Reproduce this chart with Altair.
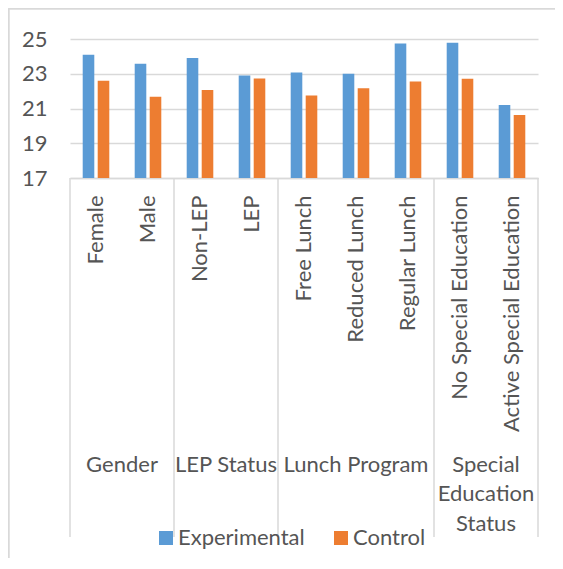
import altair as alt
import pandas as pd

categories = ["Female", "Male", "Non-LEP", "LEP", "Free Lunch", "Reduced Lunch",
              "Regular Lunch", "No Special Education", "Active Special Education"]
experimental = [24.1, 23.57, 23.9, 22.9, 23.07, 23.0, 24.74, 24.78, 21.2]
control = [22.6, 21.67, 22.07, 22.72, 21.75, 22.17, 22.55, 22.71, 20.62]
series = ["Experimental", "Control"]
colors = ["#5B9BD5", "#ED7D31"]
groups = ["Gender", "LEP Status", "Lunch Program", "Special\nEducation\nStatus"]
group_sizes = [2, 2, 3, 2]
y_ticks = [17, 19, 21, 23, 25]

rows = []
for c, e, k in zip(categories, experimental, control):
    rows.append({"category": c, "series": "Experimental", "value": e})
    rows.append({"category": c, "series": "Control", "value": k})
df = pd.DataFrame(rows)

bounds = [0]
for s in group_sizes:
    bounds.append(bounds[-1] + s)
sep_df = pd.DataFrame({"pos": bounds})
grp_df = pd.DataFrame({"group": groups,
                       "center": [(bounds[i] + bounds[i + 1]) / 2 for i in range(len(groups))]})

GRAY = "#d9d9d9"
TXT = "#555555"
FONT = "Lato"
n = len(categories)

bars = alt.Chart(df).mark_bar(clip=True).encode(
    x=alt.X("category:N", sort=categories,
            scale=alt.Scale(paddingInner=0, paddingOuter=0),
            axis=alt.Axis(title=None, labelAngle=-90, labelAlign="right", labelBaseline="middle",
                          labelPadding=17, ticks=False, tickSize=0, domainColor=GRAY,
                          domainWidth=1.5, grid=False, labelFontSize=22, labelColor=TXT,
                          labelFont=FONT, labelLimit=400)),
    xOffset=alt.XOffset("series:N", sort=series,
                        scale=alt.Scale(paddingInner=0.227, paddingOuter=0.847)),
    y=alt.Y("value:Q", scale=alt.Scale(domain=[17, 25], nice=False, zero=False),
            axis=alt.Axis(title=None, values=y_ticks, ticks=False, tickSize=0, labelPadding=23,
                          domain=False, gridColor=GRAY, gridWidth=1.5, labelFontSize=22,
                          labelColor=TXT, labelFont=FONT)),
    color=alt.Color("series:N", sort=series,
                    scale=alt.Scale(domain=series, range=colors),
                    legend=alt.Legend(title=None, orient="none", direction="horizontal",
                                      legendX=85, legendY=488, symbolType="square",
                                      symbolSize=196, symbolStrokeWidth=0, labelFontSize=22,
                                      labelFont=FONT, labelColor=TXT, labelOffset=1,
                                      columnPadding=25, padding=0, symbolOpacity=1)),
)

xs = alt.Scale(domain=[0, n], nice=False, zero=False)

seps = alt.Chart(sep_df).mark_rule(color=GRAY, strokeWidth=1.5).encode(
    x=alt.X("pos:Q", scale=xs, axis=None),
    y=alt.value(139),
    y2=alt.value(498),
)

glabels = alt.Chart(grp_df).mark_text(font=FONT, fontSize=22, color=TXT, align="center",
                                      baseline="alphabetic", lineBreak="\n",
                                      lineHeight=29.5).encode(
    x=alt.X("center:Q", scale=xs, axis=None),
    y=alt.value(432.7),
    text="group:N",
)

border_left = alt.Chart(sep_df).mark_rule(color=GRAY, strokeWidth=1.5).encode(
    x=alt.value(-61.5), y=alt.value(-30.5), y2=alt.value(520))
border_top = alt.Chart(sep_df).mark_rule(color=GRAY, strokeWidth=1.5).encode(
    x=alt.value(-61.5), x2=alt.value(490), y=alt.value(-30.5))

chart = alt.layer(bars, seps, glabels, border_left, border_top).resolve_scale(
    x="independent"
).properties(
    width=468, height=139,
    autosize=alt.AutoSizeParams(type="none"),
    padding={"left": 62, "top": 31, "right": 17, "bottom": 380},
    background="white",
).configure_view(stroke=None)

chart.save("out.html", embed_options={"renderer": "svg", "actions": False})
